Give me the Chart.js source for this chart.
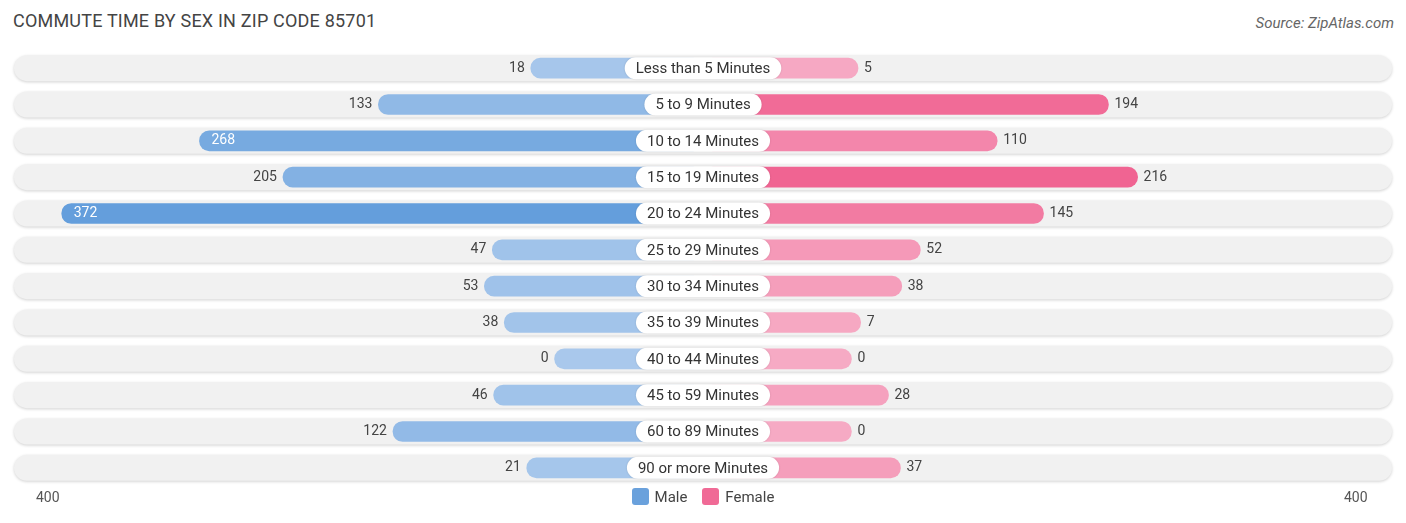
<!DOCTYPE html><html><head><meta charset="utf-8">
<script src="https://cdn.jsdelivr.net/npm/chart.js@4"></script>
<style>
body{margin:0;width:1406px;height:523px;position:relative;font-family:Roboto,"Open Sans",sans-serif;background:#fff;overflow:hidden}
#t{position:absolute;left:13px;top:10px;font-size:18px;color:#444;letter-spacing:.2px}
#s{position:absolute;right:12px;top:14px;font-size:15px;color:#666;font-style:italic}
.ax{position:absolute;top:489px;font-size:14px;color:#555}
#lg{position:absolute;top:488px;left:0;width:1406px;text-align:center;font-size:15px;color:#444}
#lg span.b{display:inline-block;width:17px;height:17px;border-radius:3px;vertical-align:-3px;margin:0 6px 0 0}
canvas{position:absolute;left:0;top:0}
</style></head><body>
<div id="t">COMMUTE TIME BY SEX IN ZIP CODE 85701</div>
<div id="s">Source: ZipAtlas.com</div>
<canvas id="c" width="1406" height="523"></canvas>
<div class="ax" style="left:36px">400</div><div class="ax" style="left:1344px">400</div>
<div id="lg"><span class="b" style="background:#6aa1dc"></span>Male&nbsp;&nbsp;&nbsp;&nbsp;<span class="b" style="background:#f06a96"></span>Female</div>
<script>
const categories=["Less than 5 Minutes","5 to 9 Minutes","10 to 14 Minutes","15 to 19 Minutes","20 to 24 Minutes","25 to 29 Minutes","30 to 34 Minutes","35 to 39 Minutes","40 to 44 Minutes","45 to 59 Minutes","60 to 89 Minutes","90 or more Minutes"];
const male=[18,133,268,205,372,47,53,38,0,46,122,21];
const female=[5,194,110,216,145,52,38,7,0,28,0,37];
const OFF=112, MAXU=520;
function mix(a,b,t){return 'rgb('+a.map((v,i)=>Math.round(v+(b[i]-v)*t)).join(',')+')';}
const mc=male.map(v=>mix([169,200,236],[100,158,220],Math.min(1,v/372)));
const fc=female.map(v=>mix([246,170,196],[240,100,146],Math.min(1,v/216)));
function rr(ctx,x,y,w,h,r){ctx.beginPath();ctx.moveTo(x+r,y);ctx.arcTo(x+w,y,x+w,y+h,r);ctx.arcTo(x+w,y+h,x,y+h,r);ctx.arcTo(x,y+h,x,y,r);ctx.arcTo(x,y,x+w,y,r);ctx.closePath();}
const bg={id:'bg',beforeDatasetsDraw(ch){const c=ch.ctx,a=ch.chartArea,y=ch.scales.y;c.save();
categories.forEach((_,i)=>{const cy=y.getPixelForValue(i);c.shadowColor='rgba(0,0,0,0.18)';c.shadowBlur=3;c.shadowOffsetY=1;c.fillStyle='#f1f1f1';rr(c,a.left,cy-13,a.right-a.left,26,13);c.fill();});c.restore();}};
const lab={id:'lab',afterDatasetsDraw(ch){const c=ch.ctx,x=ch.scales.x,y=ch.scales.y;c.save();c.font='14px Roboto, sans-serif';c.textBaseline='middle';
categories.forEach((n,i)=>{const cy=y.getPixelForValue(i),cx=x.getPixelForValue(0);
const ml=x.getPixelForValue(-(male[i]+OFF)),fr=x.getPixelForValue(female[i]+OFF);
if(male[i]>250){c.fillStyle='#fff';c.textAlign='left';c.fillText(male[i],ml+12,cy);}else{c.fillStyle='#444';c.textAlign='right';c.fillText(male[i],ml-6,cy);}
c.fillStyle='#444';c.textAlign='left';c.fillText(female[i],fr+6,cy);
c.font='15px Roboto, sans-serif';const w=c.measureText(n).width+22;c.fillStyle='#fff';c.shadowColor='rgba(0,0,0,0.15)';c.shadowBlur=2;rr(c,cx-w/2,cy-11,w,22,11);c.fill();c.shadowBlur=0;c.fillStyle='#333';c.textAlign='center';c.fillText(n,cx,cy+1);c.font='14px Roboto, sans-serif';});c.restore();}};
new Chart(document.getElementById('c'),{type:'bar',
data:{labels:categories,datasets:[
{data:male.map(v=>[-(v+OFF),0]),backgroundColor:mc,borderRadius:10,borderSkipped:false,barThickness:20},
{data:female.map(v=>[0,v+OFF]),backgroundColor:fc,borderRadius:10,borderSkipped:false,barThickness:20}]},
options:{indexAxis:'y',responsive:false,animation:false,layout:{padding:{left:14,right:14,top:50,bottom:37}},
plugins:{legend:{display:false},tooltip:{enabled:false}},
scales:{x:{display:false,min:-MAXU,max:MAXU,stacked:false},y:{display:false,stacked:true}}},
plugins:[bg,lab]});
</script></body></html>
